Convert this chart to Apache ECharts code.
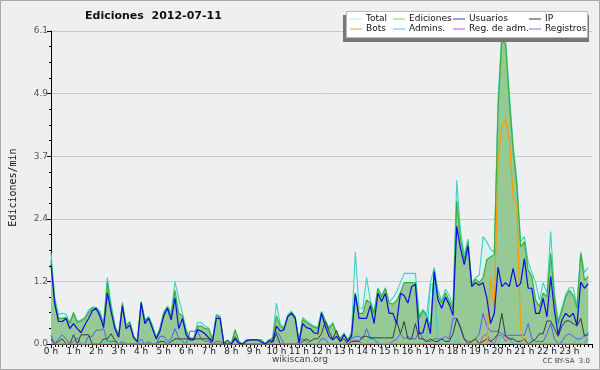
<!DOCTYPE html>
<html><head><meta charset="utf-8">
<script src="https://cdn.jsdelivr.net/npm/echarts@6/dist/echarts.min.js"></script>
<style>html,body{margin:0;padding:0;background:#eeeff1;}#c{width:600px;height:370px;}</style>
</head><body><div id="c"></div>
<script>
// 10-minute slots, x in hours
const slots = Array.from({length:144}, (_, i) => i / 6);
const hourTicks = ['0 h','1 h','2 h','3 h','4 h','5 h','6 h','7 h','8 h','9 h','10 h','11 h','12 h','13 h','14 h','15 h','16 h','17 h','18 h','19 h','20 h','21 h','22 h','23 h'];
const yTicks = ['0.0','1.2','2.4','3.7','4.9','6.1'];

const total = [1.78,0.9,0.57,0.6,0.58,0.42,0.62,0.44,0.47,0.52,
0.66,0.72,0.72,0.64,0.4,1.3,0.78,0.38,0.17,0.82,
0.37,0.44,0.16,0.06,0.84,0.47,0.54,0.37,0.13,0.32,
0.63,0.74,0.62,1.22,0.89,0.6,0.28,0.12,0.12,0.42,
0.42,0.35,0.31,0.08,0.58,0.55,0.03,0.07,0,0.28,
0.05,0,0.08,0.08,0.08,0.08,0.08,0,0.08,0.12,
0.8,0.4,0.32,0.57,0.64,0.54,0.06,0.52,0.45,0.4,
0.35,0.32,0.64,0.47,0.32,0.42,0.22,0.12,0.22,0.08,
0.25,1.8,0.7,0.7,1.3,0.85,0.62,1.1,0.95,1.1,
0.82,0.9,1.02,1.2,1.38,1.38,1.38,1.38,0.55,0.68,
0.58,1.2,1.5,1.05,0.85,1.07,0.95,0.75,3.2,2.2,
1.75,2.05,1.2,1.3,1.35,2.1,2.0,1.85,1.8,4.8,
6.1,5.95,4.9,3.9,3.2,2.0,2.1,1.6,1.4,1.2,
0.86,1.2,1.0,2.2,1.0,0.45,0.7,0.97,1.1,1.1,
0.75,1.8,1.4,1.5];

const ediciones = [1.65,0.85,0.5,0.5,0.52,0.4,0.6,0.42,0.45,0.5,
0.62,0.7,0.7,0.6,0.38,1.2,0.7,0.35,0.15,0.78,
0.35,0.42,0.15,0.05,0.82,0.45,0.52,0.35,0.12,0.3,
0.6,0.72,0.55,1.05,0.6,0.55,0.25,0.1,0.1,0.35,
0.35,0.3,0.29,0.07,0.55,0.52,0.02,0.07,0,0.28,
0.05,0,0.08,0.08,0.08,0.08,0.08,0,0.08,0.1,
0.55,0.35,0.3,0.55,0.62,0.52,0.05,0.48,0.42,0.37,
0.33,0.3,0.62,0.45,0.3,0.4,0.2,0.1,0.2,0.07,
0.2,1.0,0.6,0.6,0.86,0.8,0.6,1.08,0.92,1.08,
0.8,0.78,0.85,1.0,1.2,1.2,1.2,1.2,0.5,0.65,
0.55,0.35,1.45,0.95,0.8,1.0,0.85,0.68,2.8,2.05,
1.65,2.0,1.15,1.27,1.2,1.3,1.65,1.7,1.75,4.6,
5.95,5.85,4.75,3.8,3.1,1.9,2.0,1.45,1.32,0.86,
0.73,1.0,0.92,1.77,0.9,0.4,0.66,0.92,1.05,0.95,
0.7,1.77,1.25,1.32];

const usuarios = [1.55,0.78,0.44,0.44,0.5,0.3,0.4,0.3,0.22,0.37,
0.5,0.65,0.7,0.55,0.32,1.0,0.63,0.3,0.13,0.74,
0.3,0.37,0.12,0.04,0.8,0.4,0.5,0.3,0.1,0.25,
0.55,0.7,0.47,0.9,0.3,0.5,0.17,0.08,0.08,0.28,
0.25,0.2,0.12,0.05,0.5,0.5,0,0,0,0.1,
0.02,0,0.06,0.08,0.08,0.08,0.04,0,0.06,0.05,
0.35,0.25,0.28,0.53,0.6,0.5,0.02,0.4,0.32,0.3,
0.22,0.2,0.6,0.35,0.15,0.08,0.15,0.05,0.18,0.05,
0.15,0.97,0.5,0.5,0.5,0.75,0.4,0.99,0.83,0.99,
0.6,0.6,0.4,0.99,0.95,0.8,1.12,1.17,0.2,0.22,
0.5,0.2,1.41,0.86,0.7,0.92,0.77,0.56,2.3,1.86,
1.55,1.92,1.12,1.2,1.15,1.2,0.9,0.4,0.6,1.5,
1.12,1.2,1.12,1.48,1.12,1.18,1.67,1.09,1.09,0.6,
0.6,0.89,0.53,1.32,0.66,0.18,0.47,0.6,0.53,0.6,
0.37,1.21,1.09,1.18];

const ip = [0.1,0,0.05,0.1,0,0,0.18,0,0.18,0.18,
0.18,0,0,0,0.1,0.1,0.2,0.07,0,0,
0,0,0,0,0,0,0,0,0,0.05,
0.05,0,0.05,0.1,0.1,0.1,0.1,0.1,0.1,0.1,
0.1,0.1,0.1,0,0,0,0,0.08,0,0.14,
0,0,0,0,0,0,0,0,0,0.05,
0.2,0,0,0,0,0,0,0.05,0.1,0.05,
0.1,0.1,0.2,0.44,0.25,0.1,0.27,0.05,0.1,0,
0.05,0.05,0.05,0.15,0.15,0.12,0.12,0.12,0.12,0.12,
0.12,0.12,0.45,0.2,0.44,0.1,0.1,0.4,0.1,0.1,
0.05,0.1,0.05,0.05,0.1,0.05,0.05,0.2,0.5,0.3,
0.1,0,0.05,0.1,0,0.05,0.1,0.05,0.1,0.2,
0.6,0.15,0.1,0.1,0.05,0.05,0.1,0,0.05,0.1,
0.2,0.2,0.45,0.45,0.3,0.15,0.35,0.45,0.45,0.4,
0.35,0.5,0.15,0.2];

const bots = [0,0,0,0,0,0,0,0,0,0, 0,0,0,0,0,0,0,0,0,0,
0,0,0,0,0,0,0,0,0,0, 0,0,0,0,0,0,0,0,0,0,
0,0,0,0,0,0,0,0,0,0, 0,0,0,0,0,0,0,0,0,0,
0,0,0,0,0,0,0,0,0,0, 0,0,0,0,0,0,0,0,0,0,
0,0,0,0,0,0,0,0,0,0, 0,0,0,0,0,0,0,0,0,0,
0,0,0,0,0,0,0,0,0,0, 0,0,0,0,0,0,0,1.3,0.7,3.6,
4.25,4.4,4.0,2.9,2.7,0.3,0,0,0,0, 0,0,0,0,0,0,0,0,0,0,
0,0,0,0];

const admins = [0.1,0,0,0,0,0,0,0,0,0, 0,0,0,0,0,0.1,0,0,0,0,
0,0,0,0,0,0,0,0,0,0, 0,0,0,0.1,0,0,0,0,0,0,
0,0,0,0,0,0,0,0,0,0, 0,0,0,0,0,0,0,0,0,0,
0.1,0,0,0,0,0,0,0,0,0, 0,0,0,0,0,0,0,0,0,0,
0,0,0,0,0,0.15,0.1,0.05,0,0, 0,0,0,0,0,0,0,0,0,0,
0.1,1.15,1.2,0,0,0,0,0,0.1,0, 0,0,0,0,0,0,0,0,0,0,
0.2,0.2,0.1,0,0,0,0,0,0,0, 0,0,0,0,0,0,0,0,0,0,
0.1,0,0,0.25];

const regAdm = [0,0,0,0,0,0,0,0,0,0, 0,0,0,0,0,0,0,0,0,0,
0,0,0,0,0,0,0,0,0,0, 0,0,0,0,0,0,0,0,0,0,
0,0,0,0,0,0,0,0,0,0, 0,0,0,0,0,0,0,0,0,0,
0,0,0,0,0,0,0,0,0,0, 0,0,0,0,0,0,0,0,0,0,
0.05,0.08,0.05,0,0,0,0,0,0,0, 0,0,0,0,0,0,0,0,0,0,
0,0,0,0,0,0,0,0,0,0, 0,0,0,0,0,0.15,0.2,0.05,0,0.17,
0.17,0.05,0.13,0,0,0,0,0,0,0, 0,0,0,0,0,0,0,0,0,0,
0,0,0,0.1];

const registros = [0.17,0,0.1,0.18,0.1,0,0.05,0.12,0,0,
0.15,0.15,0.27,0.27,0.3,0.05,0.05,0.05,0,0.05,
0,0,0,0,0.1,0,0.05,0,0,0.15,
0.15,0.05,0.1,0.3,0.1,0.05,0,0.25,0.25,0.25,
0.1,0.05,0.05,0,0.05,0.05,0,0,0,0,
0,0,0,0,0,0,0,0,0,0,
0.25,0.15,0,0,0,0,0.05,0.1,0.05,0,
0,0,0.1,0.1,0,0,0,0,0,0.05,
0.1,0.15,0.15,0.1,0.3,0.1,0.1,0,0,0,
0,0.05,0.1,0.2,0.1,0.15,0.1,0.1,0.25,0.1,
0.05,0.05,0.1,0.1,0.1,0.15,0.1,0.5,0.5,0.35,
0.1,0.05,0.05,0.1,0.2,0.6,0.35,0.25,0.25,0.25,
0.2,0.15,0.17,0.17,0.17,0.17,0.17,0.4,0.1,0.05,
0.05,0.05,0.2,0.4,0.1,0,0.05,0.17,0.2,0.15,
0.1,0.1,0.17,0.17];

const FONT = 'DejaVu Sans';
const pairs = arr => slots.map((h, i) => [h, arr[i]]);
function lineSeries(name, arr, color, width, z, area) {
  const s = {name, type:'line', data:pairs(arr), showSymbol:false, symbol:'none', z,
    lineStyle:{color, width}, itemStyle:{color}};
  if (area) s.areaStyle = {color: area, opacity: 1};
  return s;
}
function colLegend(left, items) {
  return {left, top:14, z:40, orient:'vertical', itemGap:0, itemWidth:12, itemHeight:1, icon:'rect',
    selectedMode:false, padding:0,
    textStyle:{fontFamily:FONT, fontSize:9, color:'#111', lineHeight:10, padding:[0,0,0,-1]},
    data: items.map(([name, color]) => ({name, itemStyle:{color}}))};
}

const chart = echarts.init(document.getElementById('c'), null, {renderer:'canvas', width:600, height:370});
chart.setOption({
  animation:false,
  backgroundColor:'#eeeff1',
  textStyle:{fontFamily:FONT},
  title:{text:'Ediciones  2012-07-11', left:85, top:11, padding:0,
    textStyle:{fontFamily:FONT, fontWeight:'bold', fontSize:11, color:'#111'}},
  grid:{left:44, right:8, top:31, bottom:26},
  xAxis:{type:'value', min:0, max:24, interval:1,
    axisLine:{lineStyle:{color:'#000', width:1}},
    axisTick:{length:4, lineStyle:{color:'#000'}},
    minorTick:{show:true, splitNumber:6, length:3, lineStyle:{color:'#000'}},
    axisLabel:{formatter:(v)=> hourTicks[Math.round(v)] || '', fontSize:9, color:'#222', margin:3, fontFamily:FONT},
    splitLine:{show:false}, minorSplitLine:{show:false}},
  yAxis:{type:'value', min:0, max:6.12, interval:1.224,
    name:'Ediciones/min', nameLocation:'middle', nameGap:33,
    nameTextStyle:{fontFamily:'DejaVu Sans Mono', fontSize:10, color:'#111'},
    axisLine:{show:true, lineStyle:{color:'#000'}},
    axisTick:{show:true, length:4, lineStyle:{color:'#000'}},
    minorTick:{show:true, splitNumber:4, length:2, lineStyle:{color:'#000'}},
    axisLabel:{formatter:(v)=> yTicks[Math.round(v/1.224)] || '', fontSize:9, color:'#555', margin:3, fontFamily:FONT},
    splitLine:{lineStyle:{color:'#c9c9c9', width:1}}},
  legend:[
    colLegend(350, [['Total','#aee8e6'],['Bots','#ff9a33']]),
    colLegend(393, [['Ediciones','#7ccc7c'],['Admins.','#3ccfe0']]),
    colLegend(453, [['Usuarios','#3a3ae0'],['Reg. de adm.','#cc44dd']]),
    colLegend(529, [['IP','#333333'],['Registros','#7777ee']])
  ],
  graphic:[
    {type:'rect', z:0, silent:true, shape:{x:0.5, y:0.5, width:599, height:369}, style:{fill:'none', stroke:'#aaaaaa', lineWidth:1}},
    {type:'rect', z:20, silent:true, shape:{x:343, y:15, width:246, height:27}, style:{fill:'#777777'}},
    {type:'rect', z:21, silent:true, shape:{x:346.5, y:11.5, width:241, height:26}, style:{fill:'#ffffff', stroke:'#bbbbbb', lineWidth:1}},
    {type:'text', z:10, silent:true, left:'center', top:355, style:{text:'wikiscan.org', fontFamily:FONT, fontSize:9, fill:'#444'}},
    {type:'text', z:10, silent:true, right:10, top:358, style:{text:'CC BY-SA  3.0', fontFamily:FONT, fontSize:7, fill:'#444'}}
  ],
  series:[
    lineSeries('Total', total, '#3fd0c6', 1.1, 1, '#dbf3ee'),
    lineSeries('Ediciones', ediciones, '#36b336', 1.2, 2, '#95c995'),
    lineSeries('Registros', registros, '#5a5af0', 1, 3),
    lineSeries('Reg. de adm.', regAdm, '#cc40dd', 1, 4),
    lineSeries('Admins.', admins, '#30cce0', 1, 5),
    lineSeries('IP', ip, '#3a3a3a', 1, 6),
    lineSeries('Bots', bots, '#ff9900', 1.2, 7),
    lineSeries('Usuarios', usuarios, '#0c0ce0', 1.2, 8)
  ]
});
</script></body></html>
